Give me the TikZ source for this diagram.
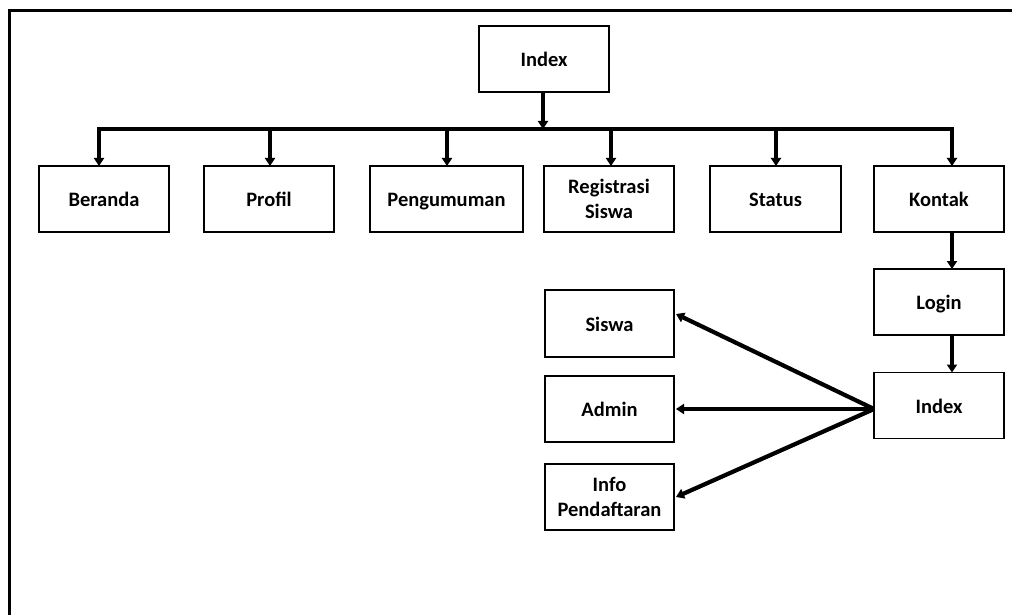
\documentclass[tikz,border=0pt]{standalone}
\usepackage{fontspec}
\setmainfont{Carlito}
\usetikzlibrary{arrows.meta}
\begin{document}
\begin{tikzpicture}[x=1pt,y=-1pt,
  page/.style={line width=3pt},
  box/.style={draw,line width=1.6pt,minimum width=130pt,minimum height=66pt,
    inner sep=0pt,outer sep=0pt,align=center,
    font=\fontsize{20.5}{25}\selectfont\bfseries},
  oneline/.style={box,text height=15.5pt,text depth=0pt},
  link/.style={line width=4.2pt,-{Triangle[width=10pt,length=8pt]}},
  busline/.style={line width=4.2pt}]
\useasboundingbox (0,0) rectangle (1012,615);
% page frame
\draw[page] (9,615) -- (9,11) -- (1012,11);

% top node
\node[oneline] (idx) at (544,59) {Index};

% first-level pages
\node[oneline] (beranda) at (104,199) {Beranda};
\node[oneline] (profil) at (269,199) {Profil};
\node[oneline,minimum width=153pt] (peng) at (446.5,199) {Pengumuman};
\node[box] (reg) at (609,199) {Registrasi\\Siswa};
\node[oneline,minimum width=131pt] (status) at (775.5,199) {Status};
\node[oneline] (kontak) at (939,199) {Kontak};

% login branch
\node[oneline] (login) at (939,302) {Login};
\node[oneline] (idx2) at (939,405.5) {Index};

% admin area pages
\node[oneline,minimum width=129pt,minimum height=67pt] (siswa) at (609.5,323.5) {Siswa};
\node[oneline,minimum width=129pt] (admin) at (609.5,409) {Admin};
\node[box,minimum width=129pt] (info) at (609.5,497) {Info\\Pendaftaran};

% distribution bus
\coordinate (b1) at (99,129);
\coordinate (b2) at (270,129);
\coordinate (b3) at (447,129);
\coordinate (b0) at (543,129);
\coordinate (b4) at (611,129);
\coordinate (b5) at (776,129);
\coordinate (b6) at (952,129);
\draw[busline,line cap=rect] (b1) -- (b6);

\draw[link] (idx.south -| b0) -- (b0);
\draw[link] (b1) -- (b1 |- beranda.north);
\draw[link] (b2) -- (b2 |- profil.north);
\draw[link] (b3) -- (b3 |- peng.north);
\draw[link] (b4) -- (b4 |- reg.north);
\draw[link] (b5) -- (b5 |- status.north);
\draw[link] (b6) -- (b6 |- kontak.north);

% login chain
\draw[link] (kontak.south -| b6) -- (login.north -| b6);
\draw[link] (login.south -| b6) -- (idx2.north -| b6);

% fan-out from the second index
\coordinate (src) at (874,409);
\draw[link] (src) -- ([xshift=2pt,yshift=9.5pt]siswa.east);
\draw[link] (src) -- ([xshift=2pt]admin.east);
\draw[link] (src) -- ([xshift=2pt]info.east);
\end{tikzpicture}
\end{document}
